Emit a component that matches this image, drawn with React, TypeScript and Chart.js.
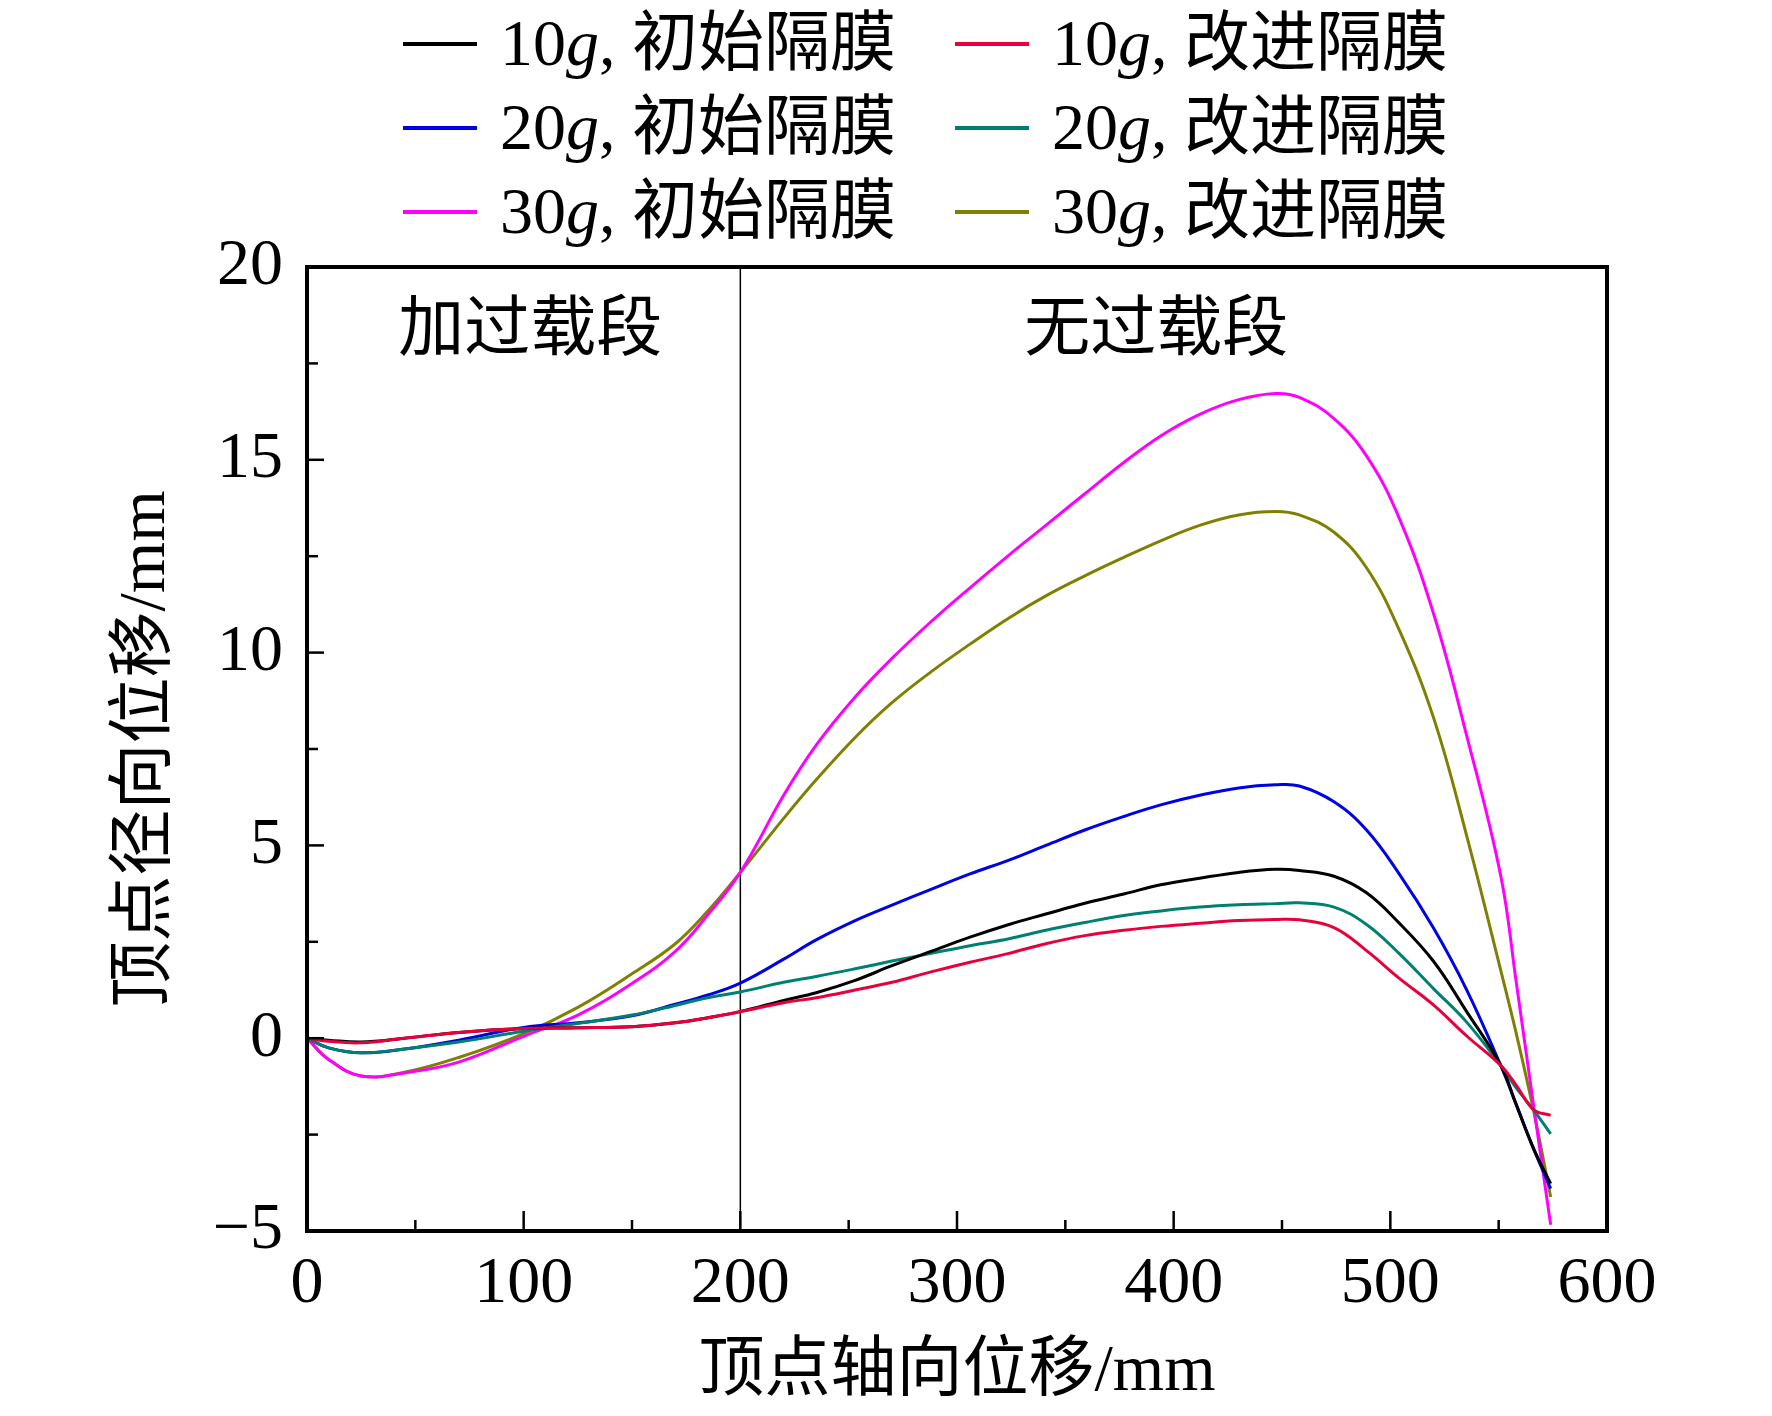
import { useEffect, useRef } from 'react';
import Chart from 'chart.js/auto';

// 顶点轴向位移 (mm)
const axialMm = [0, 10, 25, 45, 70, 100, 125, 150, 170, 185, 200, 220, 235, 253, 270, 288, 306, 324, 341, 359, 377, 394, 412, 430, 447, 458, 474, 489, 504, 520, 535, 551, 558, 566, 574];

// 顶点径向位移 (mm)
const g10Initial = [0, -0.05, -0.1, 0.0, 0.15, 0.25, 0.27, 0.3, 0.4, 0.53, 0.69, 0.98, 1.18, 1.5, 1.88, 2.25, 2.62, 2.95, 3.22, 3.5, 3.74, 3.98, 4.15, 4.3, 4.38, 4.35, 4.2, 3.77, 2.99, 1.99, 0.71, -0.71, -1.71, -2.85, -3.77];
const g10Improved = [0, -0.08, -0.12, 0.0, 0.15, 0.25, 0.27, 0.3, 0.4, 0.53, 0.69, 0.92, 1.05, 1.25, 1.45, 1.72, 1.97, 2.2, 2.45, 2.66, 2.8, 2.9, 2.98, 3.05, 3.08, 3.07, 2.87, 2.27, 1.56, 0.86, 0.07, -0.71, -1.21, -1.85, -2.0];
const g20Initial = [0, -0.25, -0.38, -0.28, -0.05, 0.28, 0.4, 0.58, 0.88, 1.12, 1.43, 2.05, 2.55, 3.05, 3.45, 3.86, 4.26, 4.62, 5.0, 5.4, 5.75, 6.05, 6.3, 6.49, 6.57, 6.54, 6.13, 5.4, 4.27, 2.85, 1.28, -0.71, -1.7, -2.85, -3.9];
const g20Improved = [0, -0.25, -0.38, -0.28, -0.1, 0.18, 0.38, 0.6, 0.85, 1.05, 1.2, 1.45, 1.6, 1.8, 2.0, 2.2, 2.4, 2.58, 2.8, 3.0, 3.18, 3.3, 3.4, 3.46, 3.49, 3.51, 3.4, 2.95, 2.2, 1.28, 0.43, -0.71, -1.28, -1.85, -2.48];
const g30Initial = [0, -0.55, -0.98, -0.9, -0.62, 0.05, 0.6, 1.42, 2.25, 3.2, 4.3, 6.3, 7.6, 8.85, 9.85, 10.8, 11.68, 12.53, 13.3, 14.12, 14.93, 15.62, 16.18, 16.56, 16.72, 16.62, 16.07, 15.1, 13.5, 11.0, 7.9, 4.2, 1.5, -1.7, -4.84];
const g30Improved = [0, -0.55, -0.98, -0.88, -0.5, 0.12, 0.8, 1.67, 2.45, 3.3, 4.3, 5.7, 6.7, 7.8, 8.7, 9.5, 10.22, 10.9, 11.47, 11.99, 12.47, 12.9, 13.3, 13.57, 13.66, 13.57, 13.12, 12.2, 10.6, 8.3, 5.3, 1.75, 0.15, -1.85, -4.12];

// legend order: row by row, two columns
const loads = ['10', '10', '20', '20', '30', '30'];
const membranes = ['初始隔膜', '改进隔膜', '初始隔膜', '改进隔膜', '初始隔膜', '改进隔膜'];
const seriesValues = [g10Initial, g10Improved, g20Initial, g20Improved, g30Initial, g30Improved];
const colors = ['#000000', '#E8003C', '#0000E6', '#008070', '#FF00FF', '#808000'];

const sections = ['加过载段', '无过载段'];
const dividerX = 200;

const FAMILY = "'Liberation Serif', 'Noto Sans CJK SC', serif";
const SIZE = 66;

const overlay = {
    id: 'overlay',
    beforeDatasetsDraw(chart: any) {
        const { ctx, chartArea: a, scales } = chart;
        const px = scales.x.getPixelForValue(dividerX);
        ctx.save();
        ctx.strokeStyle = '#000';
        ctx.lineWidth = 1.5;
        ctx.beginPath();
        ctx.moveTo(px, a.top);
        ctx.lineTo(px, a.bottom);
        ctx.stroke();
        ctx.restore();
    },
    afterDatasetsDraw(chart: any) {
        const { ctx, chartArea: a, scales } = chart;
        const xs = scales.x;
        const ys = scales.y;
        ctx.save();
        ctx.strokeStyle = '#000';

        // inward ticks
        ctx.lineWidth = 2.5;
        for (let v = 0; v <= 600; v += 50) {
            const px = xs.getPixelForValue(v);
            const len = v % 100 === 0 ? 20 : 11;
            ctx.beginPath();
            ctx.moveTo(px, a.bottom);
            ctx.lineTo(px, a.bottom - len);
            ctx.stroke();
        }
        for (let v = -5; v <= 20; v += 2.5) {
            const py = ys.getPixelForValue(v);
            const len = v % 5 === 0 ? 17 : 11;
            ctx.beginPath();
            ctx.moveTo(a.left, py);
            ctx.lineTo(a.left + len, py);
            ctx.stroke();
        }

        // frame
        ctx.lineWidth = 4;
        ctx.strokeRect(a.left, a.top, a.right - a.left, a.bottom - a.top);

        // section labels
        ctx.fillStyle = '#000';
        ctx.font = `${SIZE}px ${FAMILY}`;
        ctx.textAlign = 'center';
        ctx.textBaseline = 'middle';
        const labelY = ys.getPixelForValue(18.3);
        ctx.fillText(sections[0], xs.getPixelForValue(103), labelY);
        ctx.fillText(sections[1], xs.getPixelForValue(392), labelY);

        // legend
        const colX = [395, 947];
        const rowY = [36, 120, 204];
        ctx.textAlign = 'left';
        for (let i = 0; i < loads.length; i++) {
            const cx = colX[i % 2];
            const cy = rowY[Math.floor(i / 2)];
            ctx.strokeStyle = colors[i];
            ctx.lineWidth = 4;
            ctx.beginPath();
            ctx.moveTo(cx, cy);
            ctx.lineTo(cx + 74, cy);
            ctx.stroke();
            let tx = cx + 97;
            const ty = cy + 4;
            ctx.font = `${SIZE}px ${FAMILY}`;
            ctx.fillText(loads[i], tx, ty);
            tx += ctx.measureText(loads[i]).width;
            ctx.font = `italic ${SIZE}px ${FAMILY}`;
            ctx.fillText('g', tx, ty);
            tx += ctx.measureText('g').width;
            ctx.font = `${SIZE}px ${FAMILY}`;
            ctx.fillText(', ' + membranes[i], tx, ty);
        }
        ctx.restore();
    },
};

const DisplacementChart = () => {
    const chartRef = useRef<HTMLCanvasElement | null>(null);
    const chartInstance = useRef<Chart | null>(null);

    useEffect(() => {
        if (chartRef.current) {
            if (chartInstance.current) {
                chartInstance.current.destroy();
            }

            const font = { family: FAMILY, size: SIZE };

            chartInstance.current = new Chart(chartRef.current, {
                type: 'line',
                data: {
                    datasets: seriesValues.map((vals, i) => ({
                        label: `${loads[i]}g, ${membranes[i]}`,
                        data: axialMm.map((x, j) => ({ x, y: vals[j] })),
                        borderColor: colors[i],
                        borderWidth: 3,
                        pointRadius: 0,
                        fill: false,
                        tension: 0.4,
                        order: [2, 1, 4, 3, 5, 6][i],
                    })),
                },
                options: {
                    animation: false,
                    responsive: false,
                    events: [],
                    layout: {
                        padding: { left: 0, right: 157, top: 259, bottom: 0 },
                    },
                    plugins: {
                        legend: { display: false },
                        tooltip: { enabled: false },
                    },
                    scales: {
                        x: {
                            type: 'linear',
                            min: 0,
                            max: 600,
                            grid: { display: false, drawTicks: false },
                            border: { display: false },
                            ticks: { stepSize: 100, color: '#000', font, padding: 14, maxRotation: 0 },
                            title: {
                                display: true,
                                text: '顶点轴向位移/mm',
                                color: '#000',
                                font,
                                padding: { top: 0, bottom: -4 },
                            },
                            afterFit: (scale: any) => { scale.height = 177; },
                        },
                        y: {
                            type: 'linear',
                            min: -5,
                            max: 20,
                            grid: { display: false, drawTicks: false },
                            border: { display: false },
                            ticks: {
                                stepSize: 5,
                                color: '#000',
                                font,
                                padding: 24,
                                callback: (v: any) => (v < 0 ? '\u2212' + Math.abs(v) : String(v)),
                            },
                            title: {
                                display: true,
                                text: '顶点径向位移/mm',
                                color: '#000',
                                font,
                                padding: { top: 99, bottom: 0 },
                            },
                            afterFit: (scale: any) => { scale.width = 299; },
                        },
                    },
                },
                plugins: [overlay],
            });
        }

        return () => {
            if (chartInstance.current) {
                chartInstance.current.destroy();
            }
        };
    }, []);

    return (
        <div style={{ width: 1756, height: 1400 }}>
            <canvas ref={chartRef} width={1756} height={1400}></canvas>
        </div>
    );
};

export default function App() {
    return <DisplacementChart />;
}
